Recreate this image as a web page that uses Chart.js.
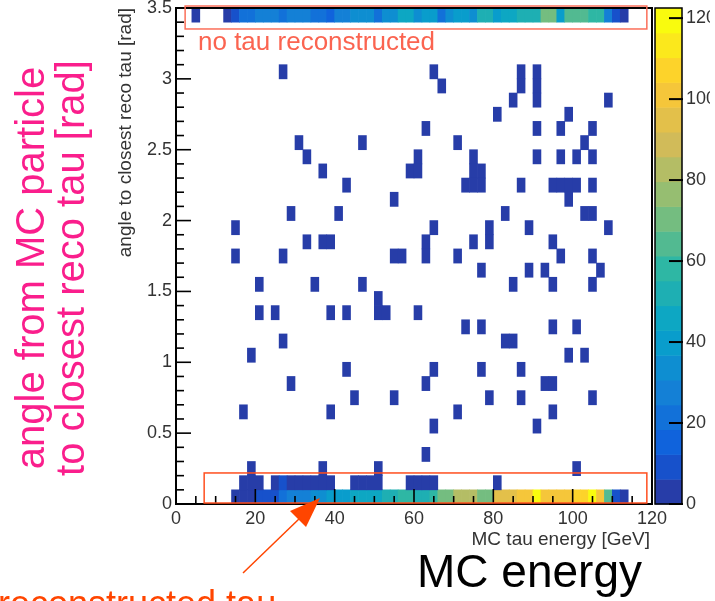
<!DOCTYPE html>
<html>
<head>
<meta charset="utf-8">
<script src="https://cdn.jsdelivr.net/npm/chart.js@4.4.1/dist/chart.umd.min.js"></script>
<style>
  body { margin: 0; background: #fff; }
  #c { position: absolute; left: 0; top: 0; }
</style>
</head>
<body>
<canvas id="c" width="710" height="601"></canvas>
<script>
// histogram binning: 2 GeV x 0.1 rad
const energyBins = [0, 2, 4, 6, 8, 10, 12, 14, 16, 18, 20, 22, 24, 26, 28, 30, 32, 34, 36, 38,
  40, 42, 44, 46, 48, 50, 52, 54, 56, 58, 60, 62, 64, 66, 68, 70, 72, 74, 76, 78,
  80, 82, 84, 86, 88, 90, 92, 94, 96, 98, 100, 102, 104, 106, 108, 110, 112, 114, 116, 118];
const energyWidth = 2;
const angleWidth = 0.1;

// angle 3.4-3.5 : "no tau reconstructed"
const topRowCounts = [0, 0, 3, 0, 0, 0, 4, 10, 20, 21, 26, 27, 27, 20, 27, 27, 27, 21, 20, 13,
  28, 30, 33, 34, 33, 20, 33, 34, 46, 46, 36, 38, 37, 22, 36, 37, 38, 36, 52, 54,
  40, 46, 45, 53, 52, 55, 70, 72, 40, 64, 65, 63, 57, 56, 27, 10, 4, 0, 0, 0];

// angle 0-0.1
const bottomRowCounts = [0, 0, 0, 0, 0, 0, 0, 3, 4, 5, 9, 10, 12, 20, 26, 27, 25, 33, 36, 38,
  40, 41, 44, 46, 45, 47, 52, 53, 58, 60, 55, 53, 56, 70, 72, 83, 84, 82, 72, 70,
  95, 96, 97, 98, 102, 120, 101, 100, 102, 101, 108, 107, 118, 100, 62, 12, 5, 0, 0, 0];

// angle 0.1-0.2
const secondRowEnergy = [16, 18, 20, 24, 26, 28, 30, 32, 34, 36, 38, 44, 46, 48, 50, 58, 60, 62, 64, 80];
const secondRowCounts = [2, 2, 2, 2, 8, 2, 3, 3, 2, 2, 2, 2, 2, 2, 2, 2, 2, 2, 2, 1];

// single entries elsewhere (bin lower edges)
const sparseEnergy = [26, 64, 86, 90, 66, 86, 90, 84, 90, 108, 80, 98, 62, 90, 96, 104,
  30, 46, 70, 102, 32, 60, 74, 90, 96, 100, 104, 36, 58, 60, 74, 76,
  42, 72, 74, 76, 86, 94, 96, 98, 100, 104, 54, 98, 28, 40, 82, 102, 104,
  14, 64, 78, 88, 108, 32, 36, 38, 62, 74, 78, 94, 14, 26, 54, 56, 62, 70, 96, 104,
  76, 88, 92, 106, 20, 34, 46, 84, 94, 104, 50, 20, 24, 38, 42, 50, 52, 60,
  72, 76, 94, 100, 26, 82, 84, 18, 98, 102, 42, 64, 76, 86, 28, 62, 92, 94,
  44, 54, 78, 86, 104, 16, 38, 70, 94, 64, 90, 62, 18, 36, 50, 100];
const sparseAngle = [3.0, 3.0, 3.0, 3.0, 2.9, 2.9, 2.9, 2.8, 2.8, 2.8, 2.7, 2.7, 2.6, 2.6, 2.6, 2.6,
  2.5, 2.5, 2.5, 2.5, 2.4, 2.4, 2.4, 2.4, 2.4, 2.4, 2.4, 2.3, 2.3, 2.3, 2.3, 2.3,
  2.2, 2.2, 2.2, 2.2, 2.2, 2.2, 2.2, 2.2, 2.2, 2.2, 2.1, 2.1, 2.0, 2.0, 2.0, 2.0, 2.0,
  1.9, 1.9, 1.9, 1.9, 1.9, 1.8, 1.8, 1.8, 1.8, 1.8, 1.8, 1.8, 1.7, 1.7, 1.7, 1.7, 1.7, 1.7, 1.7, 1.7,
  1.6, 1.6, 1.6, 1.6, 1.5, 1.5, 1.5, 1.5, 1.5, 1.5, 1.4, 1.3, 1.3, 1.3, 1.3, 1.3, 1.3, 1.3,
  1.2, 1.2, 1.2, 1.2, 1.1, 1.1, 1.1, 1.0, 1.0, 1.0, 0.9, 0.9, 0.9, 0.9, 0.8, 0.8, 0.8, 0.8,
  0.7, 0.7, 0.7, 0.7, 0.7, 0.6, 0.6, 0.6, 0.6, 0.5, 0.5, 0.3, 0.2, 0.2, 0.2, 0.2];

const zMax = 122.5;
const zContours = 20;
const zTicks = [0, 20, 40, 60, 80, 100, 120];

// ROOT kBird palette
const birdStops = [0, 0.125, 0.25, 0.375, 0.5, 0.625, 0.75, 0.875, 1];
const birdR = [0.2082, 0.0592, 0.0780, 0.0232, 0.1802, 0.5301, 0.8186, 0.9956, 0.9764];
const birdG = [0.1664, 0.3599, 0.5041, 0.6419, 0.7178, 0.7492, 0.7328, 0.7862, 0.9832];
const birdB = [0.5293, 0.8684, 0.8385, 0.7914, 0.6425, 0.4662, 0.3499, 0.1968, 0.0539];

function birdColor(t) {
  let i = 0;
  while (i < birdStops.length - 2 && t > birdStops[i + 1]) i++;
  const f = (t - birdStops[i]) / (birdStops[i + 1] - birdStops[i]);
  const c = (arr) => Math.round(255 * (arr[i] + f * (arr[i + 1] - arr[i])));
  return `rgb(${c(birdR)},${c(birdG)},${c(birdB)})`;
}

function bandColor(band) {
  const idx = Math.floor((band + 0.99) * 255 / zContours);
  return birdColor(Math.min(idx / 254, 1));
}

function valueColor(v) {
  const band = Math.max(0, Math.min(zContours - 1, Math.floor(v / (zMax / zContours))));
  return bandColor(band);
}

// build cells
const cells = [];
function addCell(e, a, v) {
  if (v > 0) cells.push({ x: e + energyWidth / 2, y: [a, a + angleWidth], v: v });
}
energyBins.forEach((e, i) => {
  addCell(e, 0, bottomRowCounts[i]);
  addCell(e, 3.4, topRowCounts[i]);
});
secondRowEnergy.forEach((e, i) => addCell(e, 0.1, secondRowCounts[i]));
sparseEnergy.forEach((e, i) => addCell(e, sparseAngle[i], 1));

const tickFont = { family: '"Liberation Sans", Arial, sans-serif', size: 18 };
const textFamily = '"Liberation Sans", Arial, sans-serif';
const plainNumber = (v) => String(Math.round(v * 10) / 10);

function line(ctx, x0, y0, x1, y1) {
  ctx.beginPath();
  ctx.moveTo(x0, y0);
  ctx.lineTo(x1, y1);
  ctx.stroke();
}

const rootFrame = {
  id: 'rootFrame',
  afterDatasetsDraw(chart) {
    const { ctx, chartArea: area, scales: { x, y } } = chart;
    ctx.save();
    ctx.strokeStyle = '#000';
    ctx.lineWidth = 1.6;
    for (let v = 0; v <= 120; v += 5) {
      const px = x.getPixelForValue(v);
      line(ctx, px, area.bottom, px, area.bottom - (v % 20 === 0 ? 15 : 8));
    }
    for (let i = 0; i <= 35; i++) {
      const py = y.getPixelForValue(i / 10);
      line(ctx, area.left, py, area.left + (i % 5 === 0 ? 15 : 8), py);
    }
    ctx.lineWidth = 2;
    ctx.strokeRect(area.left, area.top, area.right - area.left, area.bottom - area.top);
    ctx.restore();
  },
  afterDraw(chart) {
    const { ctx, chartArea: area, scales: { x, y, z } } = chart;
    ctx.save();

    // colour bar
    const cbLeft = area.right + 3;
    const cbRight = area.right + 30;
    for (let b = 0; b < zContours; b++) {
      const y0 = z.getPixelForValue(b * zMax / zContours);
      const y1 = z.getPixelForValue((b + 1) * zMax / zContours);
      ctx.fillStyle = bandColor(b);
      ctx.fillRect(cbLeft, y1, cbRight - cbLeft, y0 - y1 + 0.5);
    }
    ctx.strokeStyle = '#000';
    ctx.lineWidth = 1.5;
    ctx.strokeRect(cbLeft, area.top, cbRight - cbLeft, area.bottom - area.top);
    ctx.lineWidth = 2;
    zTicks.forEach((v) => {
      const py = z.getPixelForValue(v);
      line(ctx, cbRight - 13, py, cbRight + 1, py);
    });

    // axis titles
    ctx.fillStyle = '#333';
    ctx.font = `19px ${textFamily}`;
    ctx.textAlign = 'right';
    ctx.textBaseline = 'alphabetic';
    ctx.fillText('MC tau energy [GeV]', area.right - 2, 545);
    ctx.save();
    ctx.translate(131, area.top);
    ctx.rotate(-Math.PI / 2);
    ctx.fillText('angle to closest reco tau [rad]', 0, 0);
    ctx.restore();

    // annotation boxes
    ctx.lineWidth = 1.5;
    ctx.strokeStyle = '#fb6f5a';
    const bx0 = x.getPixelForValue(2.3), bx1 = x.getPixelForValue(118.7);
    const ty0 = y.getPixelForValue(3.514), ty1 = y.getPixelForValue(3.352);
    ctx.strokeRect(bx0, ty0, bx1 - bx0, ty1 - ty0);
    ctx.strokeStyle = '#ff4f1f';
    const lx0 = x.getPixelForValue(7.1);
    const ly0 = y.getPixelForValue(0.219), ly1 = y.getPixelForValue(0.007);
    ctx.strokeRect(lx0, ly0, bx1 - lx0, ly1 - ly0);

    ctx.textAlign = 'left';
    ctx.fillStyle = '#fb6450';
    ctx.font = `26px ${textFamily}`;
    ctx.fillText('no tau reconstructed', 198, 50);

    // pink title
    ctx.save();
    ctx.fillStyle = '#fa1e8c';
    ctx.font = `40px ${textFamily}`;
    ctx.textAlign = 'center';
    ctx.textBaseline = 'middle';
    ctx.translate(33, 268);
    ctx.rotate(-Math.PI / 2);
    ctx.fillText('angle from MC particle', 0, 0);
    ctx.fillText('to closest reco tau [rad]', 0, 40);
    ctx.restore();

    // MC energy
    ctx.fillStyle = '#000';
    ctx.font = `46px ${textFamily}`;
    ctx.textAlign = 'left';
    ctx.fillText('MC energy', 417, 587);

    // arrow + label
    ctx.fillStyle = '#ff4500';
    ctx.strokeStyle = '#ff4500';
    ctx.font = `36px ${textFamily}`;
    ctx.fillText('reconstructed tau', -2, 616);
    ctx.lineWidth = 1.5;
    line(ctx, 243, 573, 300, 518);
    ctx.beginPath();
    ctx.moveTo(320, 498);
    ctx.lineTo(306, 527);
    ctx.lineTo(290, 511);
    ctx.closePath();
    ctx.fill();

    ctx.restore();
  }
};

new Chart(document.getElementById('c'), {
  type: 'bar',
  data: {
    datasets: [{
      data: cells,
      backgroundColor: cells.map((c) => valueColor(c.v)),
      borderWidth: 0,
      barPercentage: 1,
      categoryPercentage: 1
    }]
  },
  options: {
    responsive: false,
    animation: false,
    devicePixelRatio: 1,
    events: [],
    layout: { padding: { left: 116, top: 8, right: 0, bottom: 0 } },
    plugins: { legend: { display: false }, tooltip: { enabled: false } },
    scales: {
      x: {
        type: 'linear', min: 0, max: 120, offset: false,
        grid: { display: false, drawTicks: false }, border: { display: false },
        ticks: { stepSize: 20, padding: 4, font: tickFont, color: '#333', maxRotation: 0, autoSkip: false, callback: plainNumber },
        afterFit(s) { s.height = 97; s.paddingLeft = 0; s.paddingRight = 0; }
      },
      y: {
        type: 'linear', min: 0, max: 3.5,
        grid: { display: false, drawTicks: false }, border: { display: false },
        ticks: { stepSize: 0.5, padding: 4, font: tickFont, color: '#333', autoSkip: false, callback: plainNumber },
        afterFit(s) { s.width = 60; s.paddingTop = 0; s.paddingBottom = 0; }
      },
      z: {
        type: 'linear', position: 'right', min: 0, max: zMax,
        grid: { display: false, drawTicks: false }, border: { display: false },
        ticks: { stepSize: 20, includeBounds: false, padding: 34, font: tickFont, color: '#333', autoSkip: false, callback: plainNumber },
        afterFit(s) { s.width = 58; s.paddingTop = 0; s.paddingBottom = 0; }
      }
    }
  },
  plugins: [rootFrame]
});
</script>
</body>
</html>
